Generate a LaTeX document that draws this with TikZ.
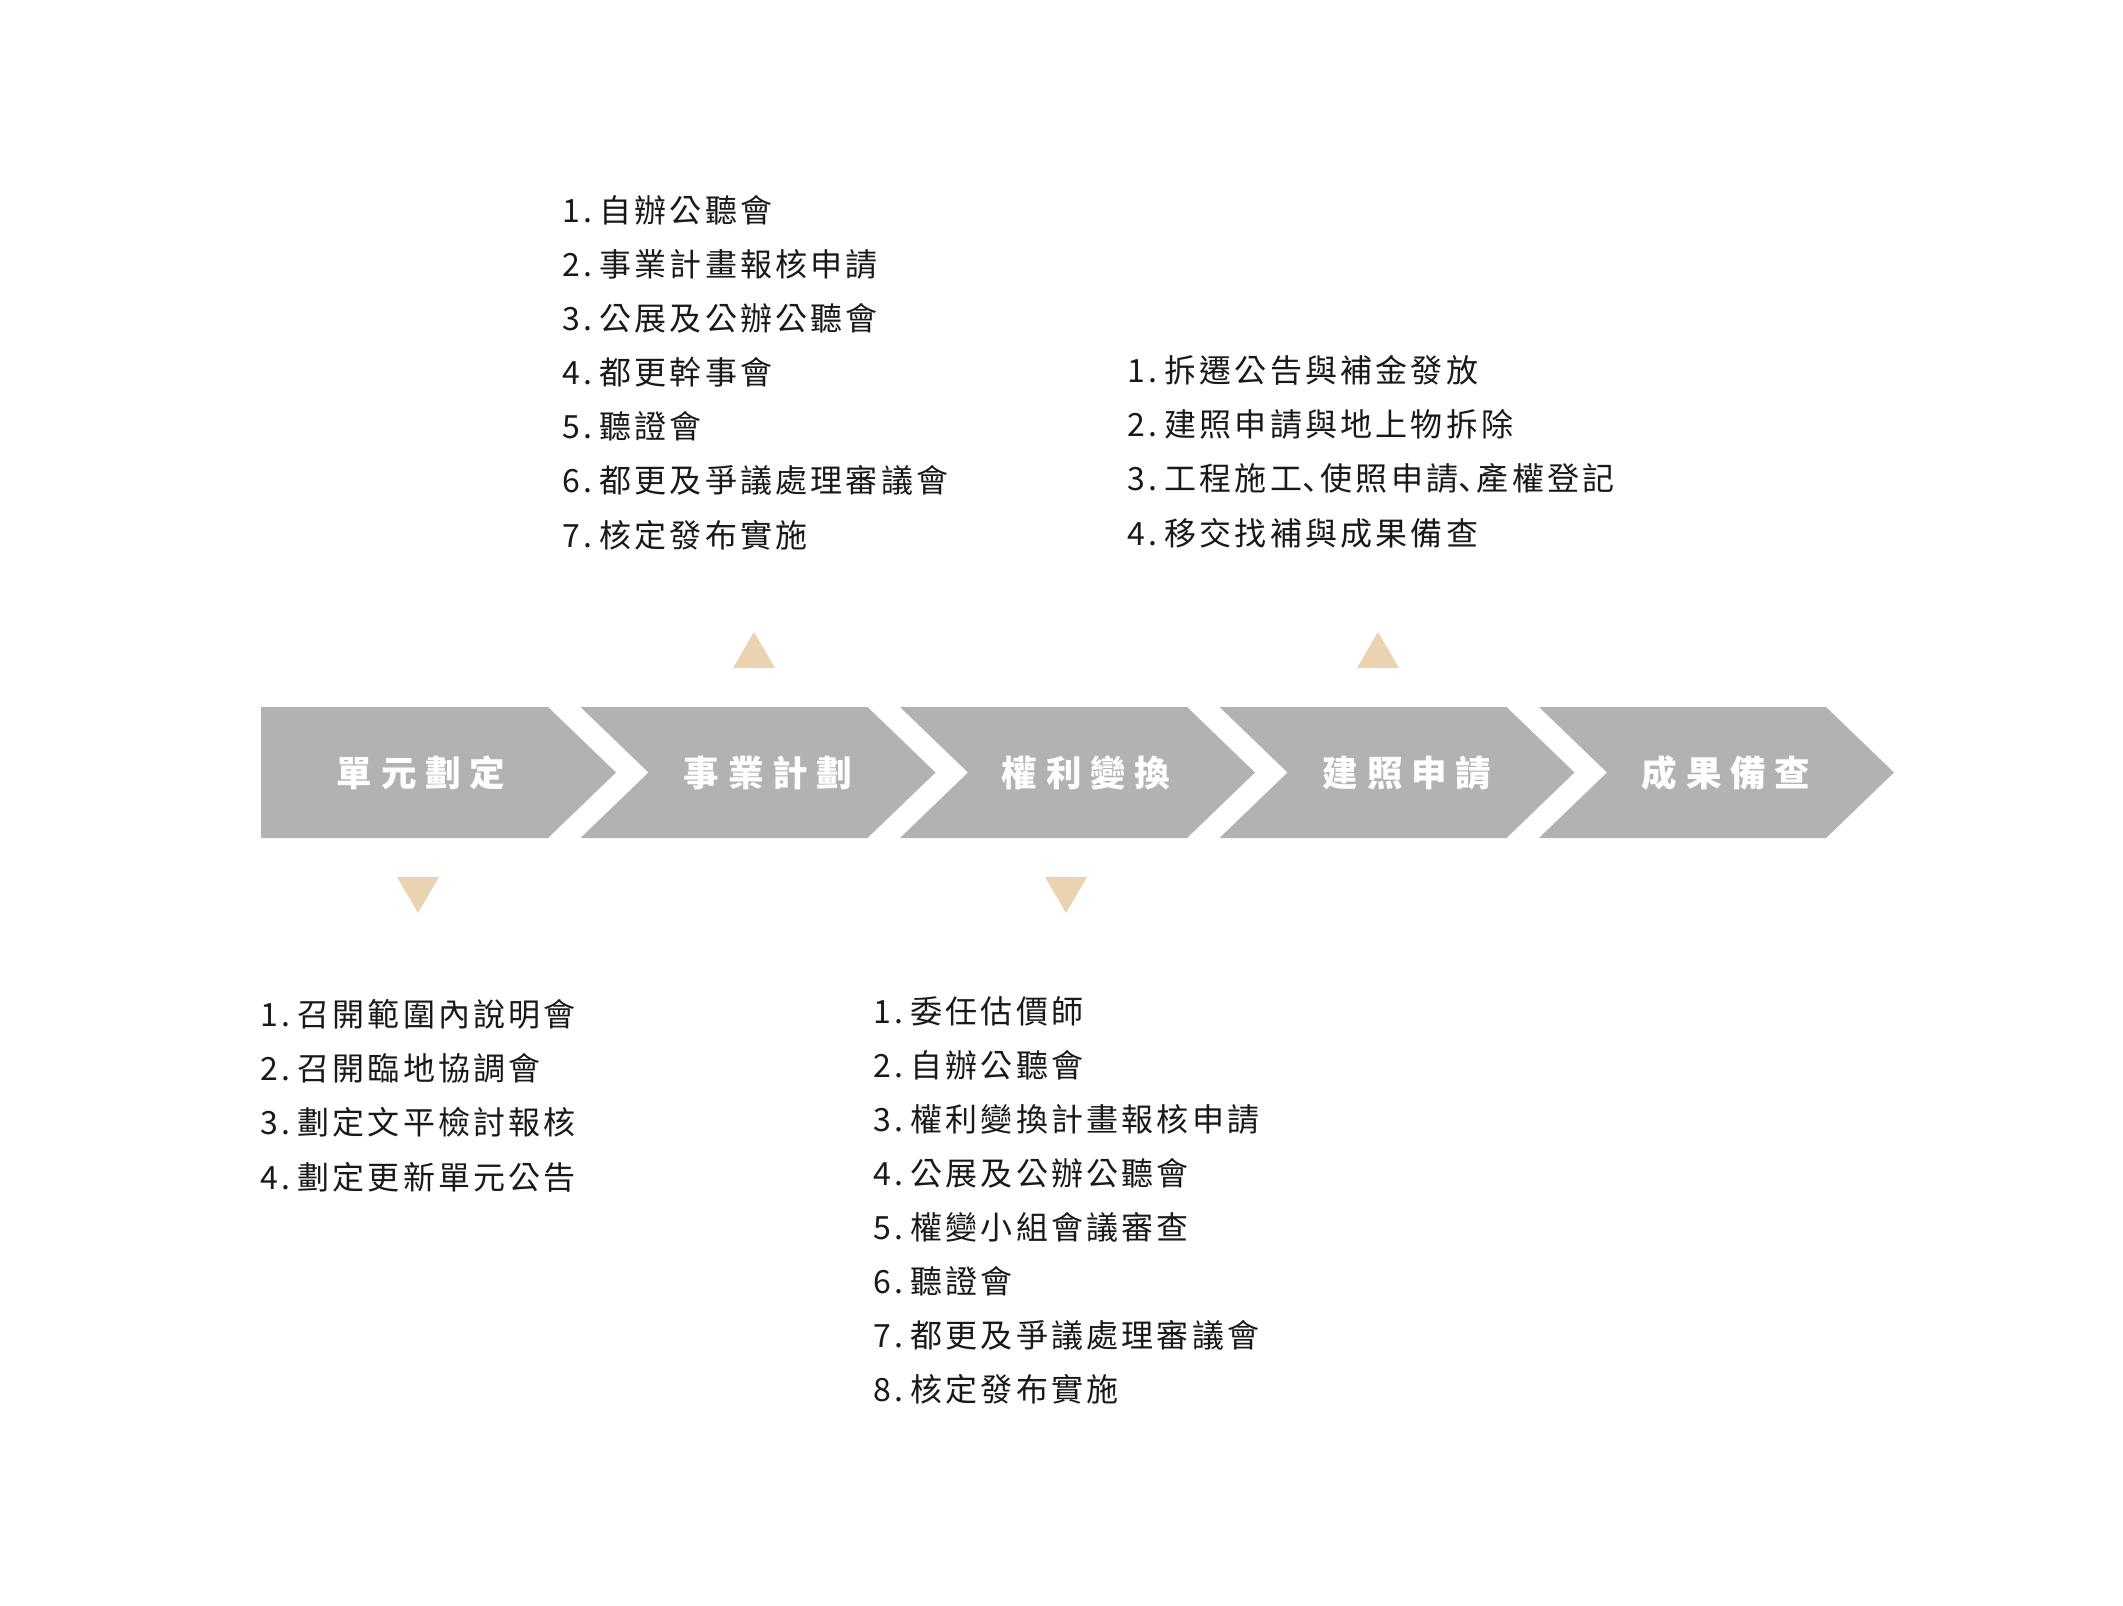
\documentclass[tikz,border=0pt]{standalone}
\usepackage{fontspec}
\newfontfamily\listfont[LetterSpace=10]{Noto Sans CJK TC}
\newfontfamily\commafont{Noto Sans CJK SC}
\newfontfamily\headfont[LetterSpace=25]{Noto Sans CJK TC}
\definecolor{chevgray}{HTML}{B2B2B2}
\definecolor{sand}{HTML}{EAD3B0}
\newcommand{\numgap}{\kern2pt}
\newcommand{\dun}{{\commafont 、}\kern-0.42em}
\tikzset{
  head/.style={text=white, inner sep=0pt, font=\headfont\bfseries\fontsize{10.1pt}{12pt}\selectfont},
  item/.style={anchor=north west, inner sep=0pt, align=left, text=black!90, font=\listfont\fontsize{9.1pt}{15.37pt}\selectfont}
}
\begin{document}
\begin{tikzpicture}[x=0.01cm, y=-0.01cm]
\useasboundingbox (0,0) rectangle (2123,1606);
\fill[chevgray] (261,707) -- (548,707) -- (616,772.5) -- (548,838) -- (261,838) -- cycle;
\fill[chevgray] (580.5,707) -- (867.5,707) -- (935.5,772.5) -- (867.5,838) -- (580.5,838) -- (648.5,772.5) -- cycle;
\fill[chevgray] (900,707) -- (1187,707) -- (1255,772.5) -- (1187,838) -- (900,838) -- (968,772.5) -- cycle;
\fill[chevgray] (1219.5,707) -- (1506.5,707) -- (1574.5,772.5) -- (1506.5,838) -- (1219.5,838) -- (1287.5,772.5) -- cycle;
\fill[chevgray] (1539,707) -- (1826,707) -- (1894,772.5) -- (1826,838) -- (1539,838) -- (1607,772.5) -- cycle;
\node[head] (unit) at (421,773) {單元劃定};
\node[head] (plan) at (768,773) {事業計劃};
\node[head] (swap) at (1086,773) {權利變換};
\node[head] (permit) at (1407,773) {建照申請};
\node[head] (done) at (1726,773) {成果備查};
\fill[sand] (733,668) -- (775,668) -- (754,632) -- cycle;
\fill[sand] (1357,668) -- (1399,668) -- (1378,632) -- cycle;
\fill[sand] (397,877) -- (439,877) -- (418,913) -- cycle;
\fill[sand] (1045,877) -- (1087,877) -- (1066,913) -- cycle;
\node[item] (planlist) at (562,195) {1.\numgap 自辦公聽會\\2.\numgap 事業計畫報核申請\\3.\numgap 公展及公辦公聽會\\4.\numgap 都更幹事會\\5.\numgap 聽證會\\6.\numgap 都更及爭議處理審議會\\7.\numgap 核定發布實施};
\node[item] (permitlist) at (1127,355) {1.\numgap 拆遷公告與補金發放\\2.\numgap 建照申請與地上物拆除\\3.\numgap 工程施工\dun 使照申請\dun 產權登記\\4.\numgap 移交找補與成果備查};
\node[item] (unitlist) at (260,999) {1.\numgap 召開範圍內說明會\\2.\numgap 召開臨地協調會\\3.\numgap 劃定文平檢討報核\\4.\numgap 劃定更新單元公告};
\node[item] (swaplist) at (873,996) {1.\numgap 委任估價師\\2.\numgap 自辦公聽會\\3.\numgap 權利變換計畫報核申請\\4.\numgap 公展及公辦公聽會\\5.\numgap 權變小組會議審查\\6.\numgap 聽證會\\7.\numgap 都更及爭議處理審議會\\8.\numgap 核定發布實施};
\end{tikzpicture}
\end{document}
